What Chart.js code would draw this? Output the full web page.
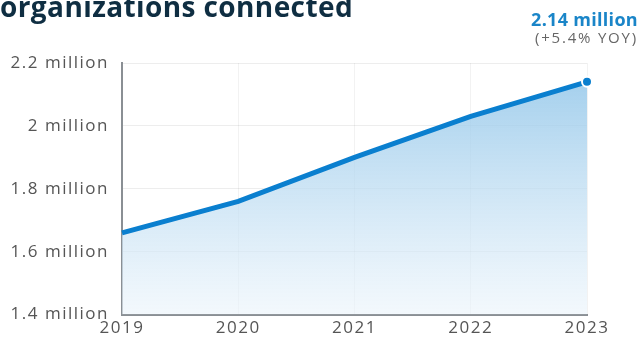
<!DOCTYPE html>
<html>
<head>
<meta charset="utf-8">
<script src="https://cdn.jsdelivr.net/npm/chart.js@4/dist/chart.umd.min.js"></script>
<style>
  html, body { margin: 0; padding: 0; background: #fff; }
  #wrap { position: relative; width: 643px; height: 345px; overflow: hidden; }
  #title { position: absolute; left: 0px; top: -13px; font-family: "Open Sans", sans-serif; font-weight: 700; font-size: 28px; color: #0f2e42; white-space: nowrap; letter-spacing: 0.4px; }
  #ann1 { position: absolute; right: 5px; top: 7px; font-family: "Open Sans", sans-serif; font-weight: 700; font-size: 18px; color: #1a85c8; text-align: right; letter-spacing: 0.3px; }
  #ann2 { position: absolute; right: 5px; top: 27px; font-family: "Open Sans", sans-serif; font-size: 15px; color: #666; text-align: right; letter-spacing: 1.8px; }
  canvas { position: absolute; left: 0; top: 0; }
</style>
</head>
<body>
<div id="wrap">
  <canvas id="c" width="643" height="345"></canvas>
  <div id="title">organizations connected</div>
  <div id="ann1">2.14 million</div>
  <div id="ann2">(+5.4% YOY)</div>
</div>
<script>
const years = ["2019", "2020", "2021", "2022", "2023"];
const organizations = [1.66, 1.76, 1.90, 2.03, 2.14];
const yTicks = [1.4, 1.6, 1.8, 2.0, 2.2];

const spacingPlugin = {
  id: 'spacing',
  beforeDraw(chart) { chart.ctx.letterSpacing = '1.5px'; }
};

const ctx = document.getElementById('c').getContext('2d');
new Chart(ctx, {
  type: 'line',
  plugins: [spacingPlugin],
  data: {
    labels: years,
    datasets: [{
      data: organizations,
      borderColor: '#0a7fcf',
      borderWidth: 5,
      tension: 0,
      fill: 'start',
      backgroundColor: function(context) {
        const chart = context.chart;
        const area = chart.chartArea;
        if (!area) return 'rgba(150,200,235,0.5)';
        const g = chart.ctx.createLinearGradient(0, area.top, 0, area.bottom);
        g.addColorStop(0, 'rgba(140,195,232,0.85)');
        g.addColorStop(1, 'rgba(235,244,251,0.6)');
        return g;
      },
      pointRadius: [0, 0, 0, 0, 5],
      pointHoverRadius: 0,
      pointBackgroundColor: '#0a7fcf',
      pointBorderColor: '#ffffff',
      pointBorderWidth: 2
    }]
  },
  options: {
    responsive: false,
    animation: false,
    layout: { padding: { left: 0, right: 56, top: 63, bottom: 4 } },
    plugins: { legend: { display: false }, tooltip: { enabled: false } },
    scales: {
      x: {
        offset: false,
        grid: { color: 'rgba(0,0,0,0.05)', drawTicks: false },
        border: { color: '#8a8f94', width: 2 },
        ticks: { color: '#555', font: { family: 'Open Sans', size: 17 }, padding: 3, maxRotation: 0 }
      },
      y: {
        min: 1.4, max: 2.2,
        afterBuildTicks: function(scale) { scale.ticks = yTicks.map(v => ({ value: v })); },
        afterFit: function(scale) { scale.width = 122; },
        grid: { color: 'rgba(0,0,0,0.07)', drawTicks: false },
        border: { color: '#8a8f94', width: 2 },
        ticks: {
          color: '#555', font: { family: 'Open Sans', size: 17 }, padding: 13,
          callback: function(v) { return (Math.round(v * 10) / 10) + ' million'; }
        }
      }
    }
  }
});
</script>
</body>
</html>
